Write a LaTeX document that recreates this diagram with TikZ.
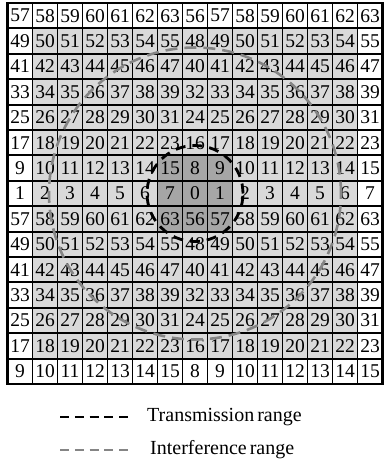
\documentclass[tikz,border=0pt]{standalone}
\usepackage{fontspec}
\setmainfont{Liberation Serif}
\definecolor{lightcell}{HTML}{D9D9D9}
\definecolor{darkcell}{HTML}{A6A6A6}
\definecolor{intgray}{HTML}{858585}
\begin{document}
\begin{tikzpicture}[x=1pt,y=-1pt,
  num/.style={inner sep=0pt,font=\fontsize{19.5}{19.5}\selectfont},
  gridline/.style={line width=1.9pt,black},
  txrange/.style={line width=2.8pt,black,dash pattern=on 10pt off 7pt},
  ifrange/.style={line width=2.6pt,intgray,dash pattern=on 12pt off 7pt},
  legtx/.style={line width=2.8pt,black,dash pattern=on 9pt off 5.75pt},
  legif/.style={line width=2.6pt,intgray,dash pattern=on 9pt off 5.75pt},
  legtext/.style={anchor=west,inner sep=0pt,font=\fontsize{20}{20}\selectfont}]
\useasboundingbox (0,0) rectangle (385,464);
\fill[white] (0,0) rectangle (385,464);
\def\cw{25}\def\ch{25.4}\def\ox{7.5}\def\oy{3}
\fill[lightcell] ({\ox+\cw},{\oy+\ch}) rectangle ({\ox+14*\cw},{\oy+14*\ch});
\fill[darkcell] ({\ox+6*\cw},{\oy+6*\ch}) rectangle ({\ox+9*\cw},{\oy+9*\ch});
\foreach \r in {1,...,15}{
  \foreach \c in {1,...,15}{
    \pgfmathtruncatemacro\v{8*mod(16-\r,8)+mod(\c,8)}
    \node[num] (n-\r-\c) at ({\ox+(\c-0.5)*\cw},{\oy+(\r-0.5)*\ch}) {\v};
  }
}
\foreach \i in {0,...,15}{
  \draw[gridline] ({\ox+\i*\cw},\oy) -- ({\ox+\i*\cw},{\oy+15*\ch});
  \draw[gridline] (\ox,{\oy+\i*\ch}) -- ({\ox+15*\cw},{\oy+\i*\ch});
}
\draw[line width=2.4pt] (\ox,\oy) rectangle ({\ox+15*\cw},{\oy+15*\ch});
\draw[ifrange] (n-8-8.center) circle[radius=146pt];
\draw[txrange] (n-8-8.center) circle[radius=48pt];
\coordinate (t1) at (60,417);
\coordinate (t2) at (128,417);
\coordinate (i1) at (60,450);
\coordinate (i2) at (128,450);
\draw[legtx] (t1) -- (t2);
\draw[legif] (i1) -- (i2);
\node[legtext] (tlab) at (147,417) {Transmission\hspace{3pt}range};
\node[legtext] (ilab) at (150,450) {Interference\hspace{3pt}range};
\end{tikzpicture}
\end{document}
